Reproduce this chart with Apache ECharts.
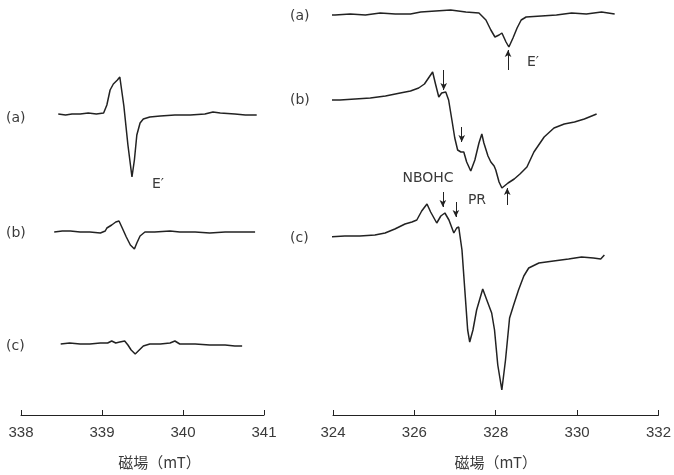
<!DOCTYPE html>
<html><head><meta charset="utf-8">
<script src="https://cdn.jsdelivr.net/npm/echarts@6/dist/echarts.min.js"></script>
<style>html,body{margin:0;padding:0;background:#fff}#c{width:674px;height:475px}</style>
</head><body><div id="c"></div>
<script>
// ---- data (field in mT, signal in arbitrary units, baseline = 0) ----
const leftTicks = [338, 339, 340, 341];
const rightTicks = [324, 326, 328, 330, 332];
const axisTitle = '磁場（mT）';

// Left panel spectra
const leftA_field = [338.46,338.55,338.63,338.73,338.83,338.93,339.02,339.06,339.10,339.14,339.19,339.22,339.23,339.27,339.32,339.37,339.40,339.43,339.47,339.51,339.59,339.72,339.90,340.09,340.27,340.37,340.46,340.64,340.77,340.91];
const leftA_signal = [0,-1,0,0,1,0,1,9,24,30,34,37,39,8,-31,-63,-46,-21,-9,-5,-3,-2,-1,-1,0,2,1,0,-1,-1];

const leftB_field = [338.41,338.51,338.61,338.73,338.85,338.98,339.04,339.06,339.12,339.17,339.21,339.25,339.30,339.35,339.40,339.43,339.47,339.53,339.65,339.84,339.96,340.15,340.33,340.52,340.70,340.89];
const leftB_signal = [0,1,1,0,0,-1,1,4,7,10,11,4,-5,-13,-17,-11,-4,0,0,1,0,0,-1,0,0,0];

const leftC_field = [338.49,338.60,338.73,338.85,338.98,339.07,339.12,339.17,339.22,339.28,339.32,339.36,339.41,339.46,339.51,339.59,339.72,339.84,339.90,339.96,340.15,340.33,340.52,340.64,340.73];
const leftC_signal = [0,1,0,0,1,1,3,1,2,3,-1,-6,-10,-6,-2,0,0,1,3,0,0,-1,-1,-2,-2];

// Right panel spectra
const rightA_field = [323.76,324.05,324.42,324.79,325.15,325.52,325.89,326.14,326.50,326.87,327.24,327.56,327.73,327.85,327.95,328.05,328.12,328.22,328.29,328.39,328.49,328.59,328.71,329.08,329.45,329.82,330.18,330.55,330.87];
const rightA_signal = [0,0,1,0,2,1,1,3,4,5,3,2,-5,-15,-22,-20,-18,-27,-32,-23,-13,-5,-2,-1,0,2,1,3,1];

const rightB_field = [323.80,324.17,324.54,324.91,325.28,325.64,325.89,326.09,326.23,326.33,326.43,326.50,326.58,326.65,326.75,326.82,326.90,326.97,327.04,327.12,327.19,327.26,327.36,327.46,327.56,327.63,327.68,327.78,327.85,327.93,327.97,328.05,328.12,328.27,328.42,328.56,328.73,328.90,329.15,329.39,329.64,329.89,330.13,330.43];
const rightB_signal = [0,0,1,2,4,7,9,12,16,22,28,16,3,7,8,0,-20,-38,-50,-52,-52,-62,-71,-60,-43,-34,-43,-56,-62,-66,-70,-82,-88,-83,-79,-74,-67,-52,-37,-28,-24,-22,-19,-14];

const rightC_field = [323.90,324.29,324.66,325.03,325.28,325.52,325.77,325.94,326.06,326.18,326.31,326.40,326.55,326.65,326.75,326.85,326.97,327.04,327.09,327.17,327.24,327.31,327.36,327.44,327.53,327.68,327.78,327.90,327.97,328.05,328.15,328.24,328.34,328.44,328.56,328.69,328.81,329.06,329.42,329.79,330.11,330.40,330.58,330.67];
const rightC_signal = [0,1,1,2,4,8,13,15,17,26,33,25,14,21,24,17,4,9,10,-13,-53,-93,-105,-93,-73,-52,-63,-76,-93,-128,-153,-123,-81,-68,-53,-39,-31,-26,-24,-22,-20,-21,-22,-18];

// ---- layout (pixel geometry only) ----
const panels = {
  L: {left: 21, width: 243, min: 338, max: 341, interval: 1},
  R: {left: 333, width: 328, min: 324, max: 332, interval: 2}
};
const traces = [
  {panel:'L', field:leftA_field, signal:leftA_signal, base:114, top:60, bottom:195},
  {panel:'L', field:leftB_field, signal:leftB_signal, base:232, top:200, bottom:270},
  {panel:'L', field:leftC_field, signal:leftC_signal, base:344, top:320, bottom:415, axis:true, namePad:34},
  {panel:'R', field:rightA_field, signal:rightA_signal, base:15, top:0, bottom:75},
  {panel:'R', field:rightB_field, signal:rightB_signal, base:100, top:60, bottom:210},
  {panel:'R', field:rightC_field, signal:rightC_signal, base:237, top:190, bottom:415, axis:true, namePad:0}
];
// annotation arrows: [traceIndex, field, fromSignal, toSignal] (arrowhead at "to")
const arrows = [
  [3, 328.27, -55, -35],
  [4, 326.70, 30, 10],
  [4, 327.14, -27, -42],
  [4, 328.25, -105, -88],
  [5, 326.70, 45, 30],
  [5, 327.02, 35, 20]
];

const lineColor = '#222';
const textColor = '#3a3a3a';
const grids = [], xAxes = [], yAxes = [], series = [];
traces.forEach((t, i) => {
  const p = panels[t.panel];
  grids.push({left: p.left, width: p.width, top: t.top, height: t.bottom - t.top});
  xAxes.push({
    type: 'value', gridIndex: i, min: p.min, max: p.max, interval: p.interval,
    show: !!t.axis,
    axisLine: {show: true, onZero: false, lineStyle: {color: lineColor, width: 1}},
    axisTick: {show: true, inside: true, length: 5, lineStyle: {color: lineColor, width: 1}},
    axisLabel: {color: textColor, fontSize: 15, fontFamily: 'Liberation Sans', margin: 10},
    splitLine: {show: false},
    name: t.axis ? axisTitle : '', nameLocation: 'middle', nameGap: 40,
    nameTextStyle: {color: textColor, fontSize: 15, fontFamily: 'Noto Sans CJK JP', padding: [0, 0, 0, t.namePad || 0]}
  });
  yAxes.push({type: 'value', gridIndex: i, min: -(t.bottom - t.base), max: t.base - t.top, show: false});
  const marks = arrows.filter(a => a[0] === i).map(a => [
    {coord: [a[1], a[2]]}, {coord: [a[1], a[3]]}
  ]);
  series.push({
    type: 'line', xAxisIndex: i, yAxisIndex: i,
    data: t.field.map((f, k) => [f, t.signal[k]]),
    showSymbol: false, smooth: false,
    lineStyle: {color: lineColor, width: 1.5},
    markLine: marks.length ? {
      silent: true, symbol: ['none', 'arrow'], symbolSize: [5, 7],
      label: {show: false},
      lineStyle: {color: lineColor, width: 1, type: 'solid'},
      data: marks
    } : undefined
  });
});

const txt = (x, y, s, size, align) => ({
  type: 'text', x: x, y: y,
  style: {text: s, fill: textColor, fontSize: size || 14, fontFamily: 'DejaVu Sans', align: align || 'left', verticalAlign: 'middle'}
});

const chart = echarts.init(document.getElementById('c'), null, {renderer: 'canvas'});
chart.setOption({
  animation: false,
  backgroundColor: '#fff',
  grid: grids, xAxis: xAxes, yAxis: yAxes, series: series,
  graphic: [
    txt(6, 118, '(a)'), txt(6, 233, '(b)'), txt(6, 346, '(c)'),
    txt(152, 184, 'E′', 14),
    txt(290, 16, '(a)'), txt(290, 100, '(b)'), txt(290, 238, '(c)'),
    txt(527, 62, 'E′', 14),
    txt(428, 178, 'NBOHC', 14, 'center'),
    txt(477, 200, 'PR', 14, 'center')
  ]
});
</script></body></html>
